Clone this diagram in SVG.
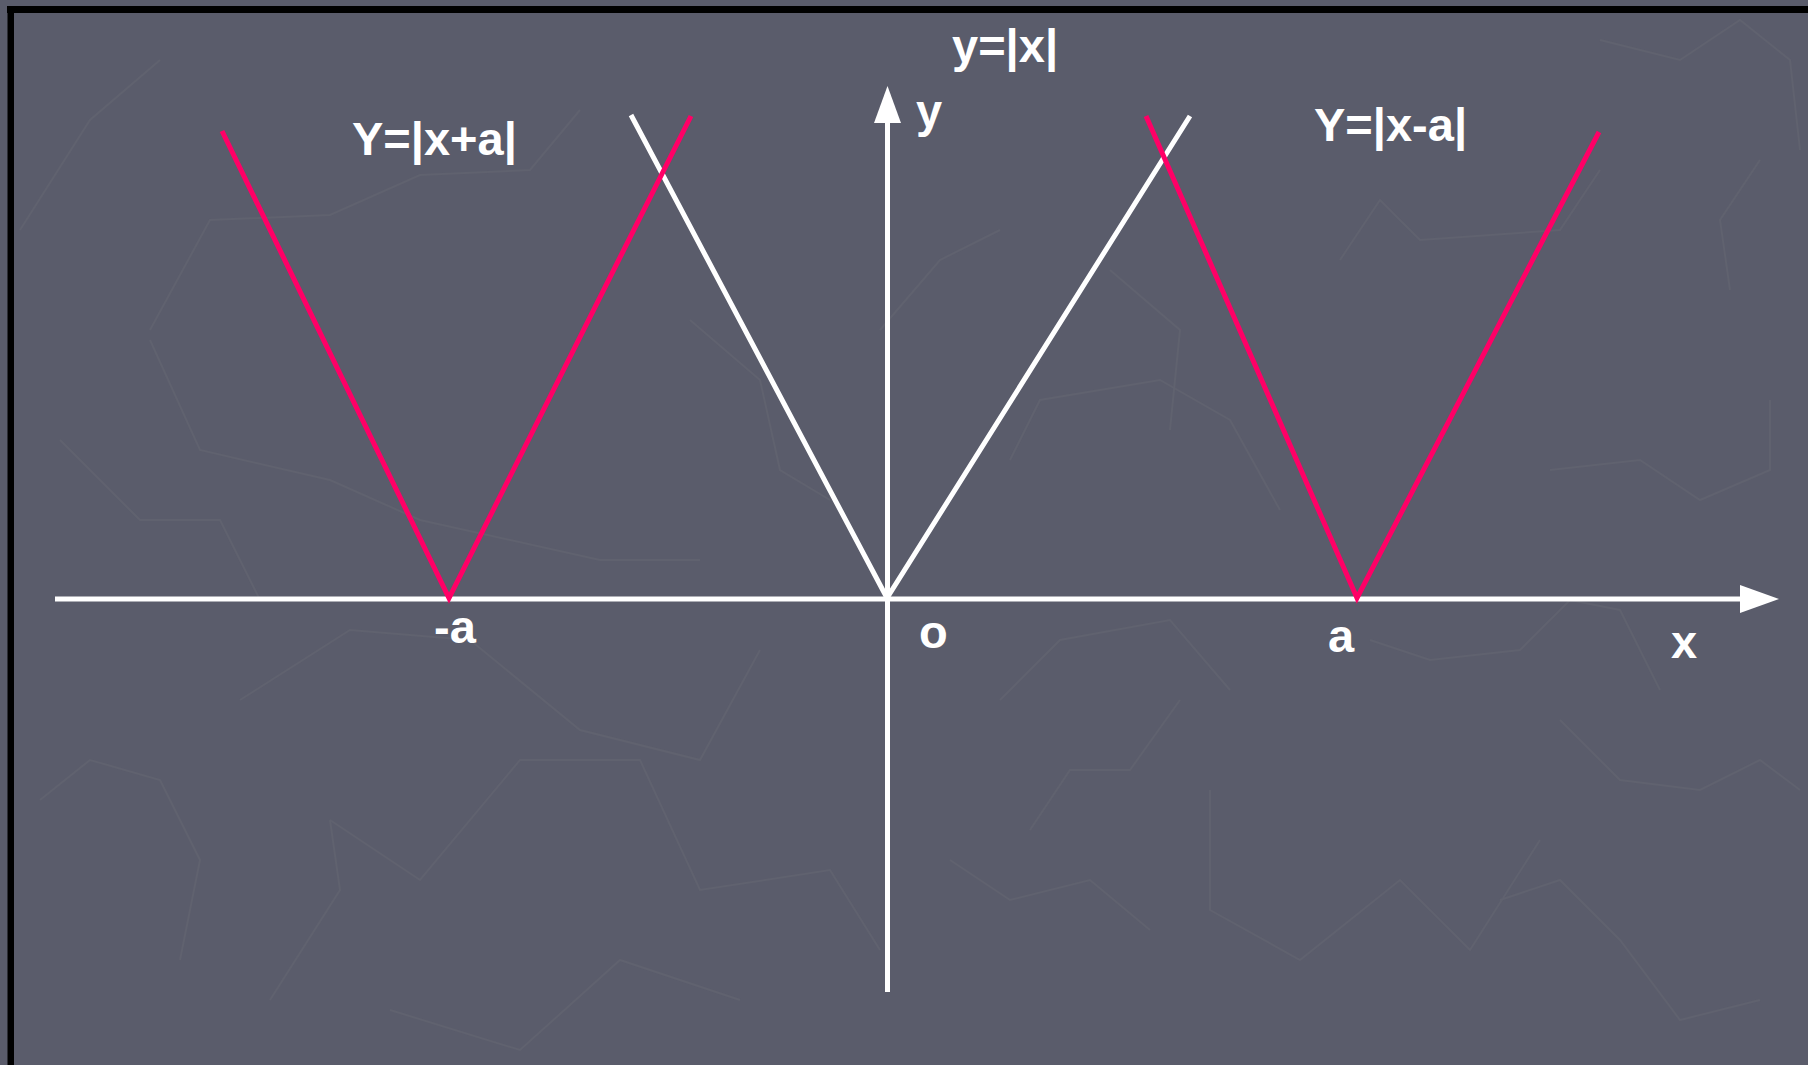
<svg xmlns="http://www.w3.org/2000/svg" width="1808" height="1065" viewBox="0 0 1808 1065">
  <defs>
    <style>
      .bg { fill: #5a5c6b; }
      .frame { fill: #000000; }
      .tex { fill: none; stroke: #60626f; stroke-width: 2; }
      .axis { stroke: #ffffff; stroke-width: 5; fill: none; }
      .white { stroke: #ffffff; stroke-width: 5; fill: none; stroke-linejoin: miter; }
      .pink { stroke: #ff0066; stroke-width: 5; fill: none; stroke-linejoin: miter; }
      .lbl { font-family: "Liberation Sans", Arial, sans-serif; font-weight: bold; font-size: 47px; fill: #ffffff; }
    </style>
  </defs>

  <rect class="bg" x="0" y="0" width="1808" height="1065"/>

  <g id="texture">
    <polyline class="tex" points="20,230 90,120 160,60"/>
    <polyline class="tex" points="150,330 210,220 330,215 420,175 530,170 580,110"/>
    <polyline class="tex" points="150,340 200,450 330,480 420,520 600,560 700,560"/>
    <polyline class="tex" points="240,700 350,630 470,640 580,730 700,760 760,650"/>
    <polyline class="tex" points="330,820 420,880 520,760 640,760 700,890 830,870 880,950"/>
    <polyline class="tex" points="270,1000 340,890 330,820"/>
    <polyline class="tex" points="390,1010 520,1050 620,960 740,1000"/>
    <polyline class="tex" points="1010,460 1040,400 1160,380 1230,420 1280,510"/>
    <polyline class="tex" points="1000,700 1060,640 1170,620 1230,690"/>
    <polyline class="tex" points="1030,830 1070,770 1130,770 1180,700"/>
    <polyline class="tex" points="1210,790 1210,910 1300,960 1400,880 1470,950 1540,840"/>
    <polyline class="tex" points="1340,260 1380,200 1420,240 1560,230 1600,170"/>
    <polyline class="tex" points="1550,470 1640,460 1700,500 1770,470 1770,400"/>
    <polyline class="tex" points="1370,640 1430,660 1520,650 1570,600 1620,610 1660,690"/>
    <polyline class="tex" points="1560,720 1620,780 1700,790 1760,760 1800,790"/>
    <polyline class="tex" points="1500,900 1560,880 1620,940 1680,1020 1760,1000"/>
    <polyline class="tex" points="1600,40 1680,60 1740,20 1790,60 1800,150"/>
    <polyline class="tex" points="1730,290 1720,220 1760,160"/>
    <polyline class="tex" points="950,860 1010,900 1090,880 1150,930"/>
    <polyline class="tex" points="60,440 140,520 220,520 260,600"/>
    <polyline class="tex" points="40,800 90,760 160,780 200,860 180,960"/>
    <polyline class="tex" points="880,330 940,260 1000,230"/>
    <polyline class="tex" points="690,320 760,380 780,470 830,500"/>
    <polyline class="tex" points="1110,270 1180,330 1170,430"/>
  </g>

  <g id="frame">
    <rect class="frame" x="7" y="6" width="1801" height="7"/>
    <rect class="frame" x="7.5" y="6" width="6.5" height="1059"/>
  </g>

  <g id="connectors">
    <line id="x-axis" class="axis" x1="55" y1="599" x2="1740" y2="599"/>
    <path d="M1740,585 L1779,599 L1740,613 Z" fill="#ffffff"/>
    <line id="y-axis" class="axis" x1="887.5" y1="992" x2="887.5" y2="122"/>
    <path d="M874,123 L887.5,86 L901,123 Z" fill="#ffffff"/>
  </g>

  <g id="graph-abs-x">
    <polyline class="white" points="631,115 887,598 1190,116"/>
  </g>
  <g id="graph-abs-x-plus-a">
    <polyline class="pink" points="222,131 449,598 691,116"/>
  </g>
  <g id="graph-abs-x-minus-a">
    <polyline class="pink" points="1146,116 1357,598 1599,132"/>
  </g>

  <g id="labels">
    <text class="lbl" x="352" y="155">Y=|x+a|</text>
    <text class="lbl" x="952" y="62">y=|x|</text>
    <text class="lbl" x="1314" y="141">Y=|x-a|</text>
    <text class="lbl" x="916" y="127">y</text>
    <text class="lbl" x="434" y="643">-a</text>
    <text class="lbl" x="919" y="648">o</text>
    <text class="lbl" x="1328" y="652">a</text>
    <text class="lbl" x="1671" y="658">x</text>
  </g>
</svg>
